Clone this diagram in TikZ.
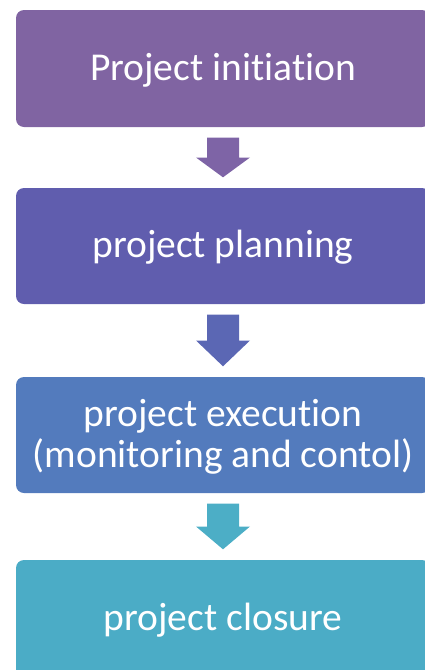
\documentclass[tikz,border=0pt]{standalone}
\usepackage{fontspec}
\setmainfont[RawFeature={-liga;-clig;-calt;-dlig}]{Carlito}
\usetikzlibrary{calc}
\definecolor{c1}{HTML}{8064A2}
\definecolor{c2}{HTML}{605DAE}
\definecolor{c3}{HTML}{537BBD}
\definecolor{c4}{HTML}{4BACC6}
\definecolor{a1}{HTML}{7E64A6}
\definecolor{a2}{HTML}{5B67B4}
\definecolor{a3}{HTML}{4CAEC6}
\tikzset{
  stagebox/.style={fill=#1, draw=none, rounded corners=8pt, minimum width=414pt,
    text=white, align=center, inner sep=0pt, text depth=4pt,
    font=\fontsize{39.5}{41}\selectfont},
}
\newcommand\blockarrow[3]{%
  \coordinate (s) at ($(#1.south)!10.5pt!(#2.north)$);
  \coordinate (t) at ($(#2.north)!10.5pt!(#1.south)$);
  \coordinate (m) at ($(s)!0.5!(t)$);
  \fill[#3] ($(s)+(-16,0)$) -- ($(s)+(16,0)$) -- ($(m)+(16,0)$) -- ($(m)+(27,0)$)
    -- (t) -- ($(m)+(-27,0)$) -- ($(m)+(-16,0)$) -- cycle;}
\begin{document}
\begin{tikzpicture}[x=1pt,y=-1pt]
\useasboundingbox (0,0) rectangle (425,670);
\node[stagebox=c1, minimum height=117pt] (b1) at (223,68.5) {Project initiation};
\node[stagebox=c2, minimum height=116pt] (b2) at (223,246) {project planning};
\node[stagebox=c3, minimum height=116pt] (b3) at (223,435) {project execution\\(monitoring and contol)};
\node[stagebox=c4, minimum height=117pt] (b4) at (223,618.5) {project closure};
\blockarrow{b1}{b2}{a1}
\blockarrow{b2}{b3}{a2}
\blockarrow{b3}{b4}{a3}
\end{tikzpicture}
\end{document}
